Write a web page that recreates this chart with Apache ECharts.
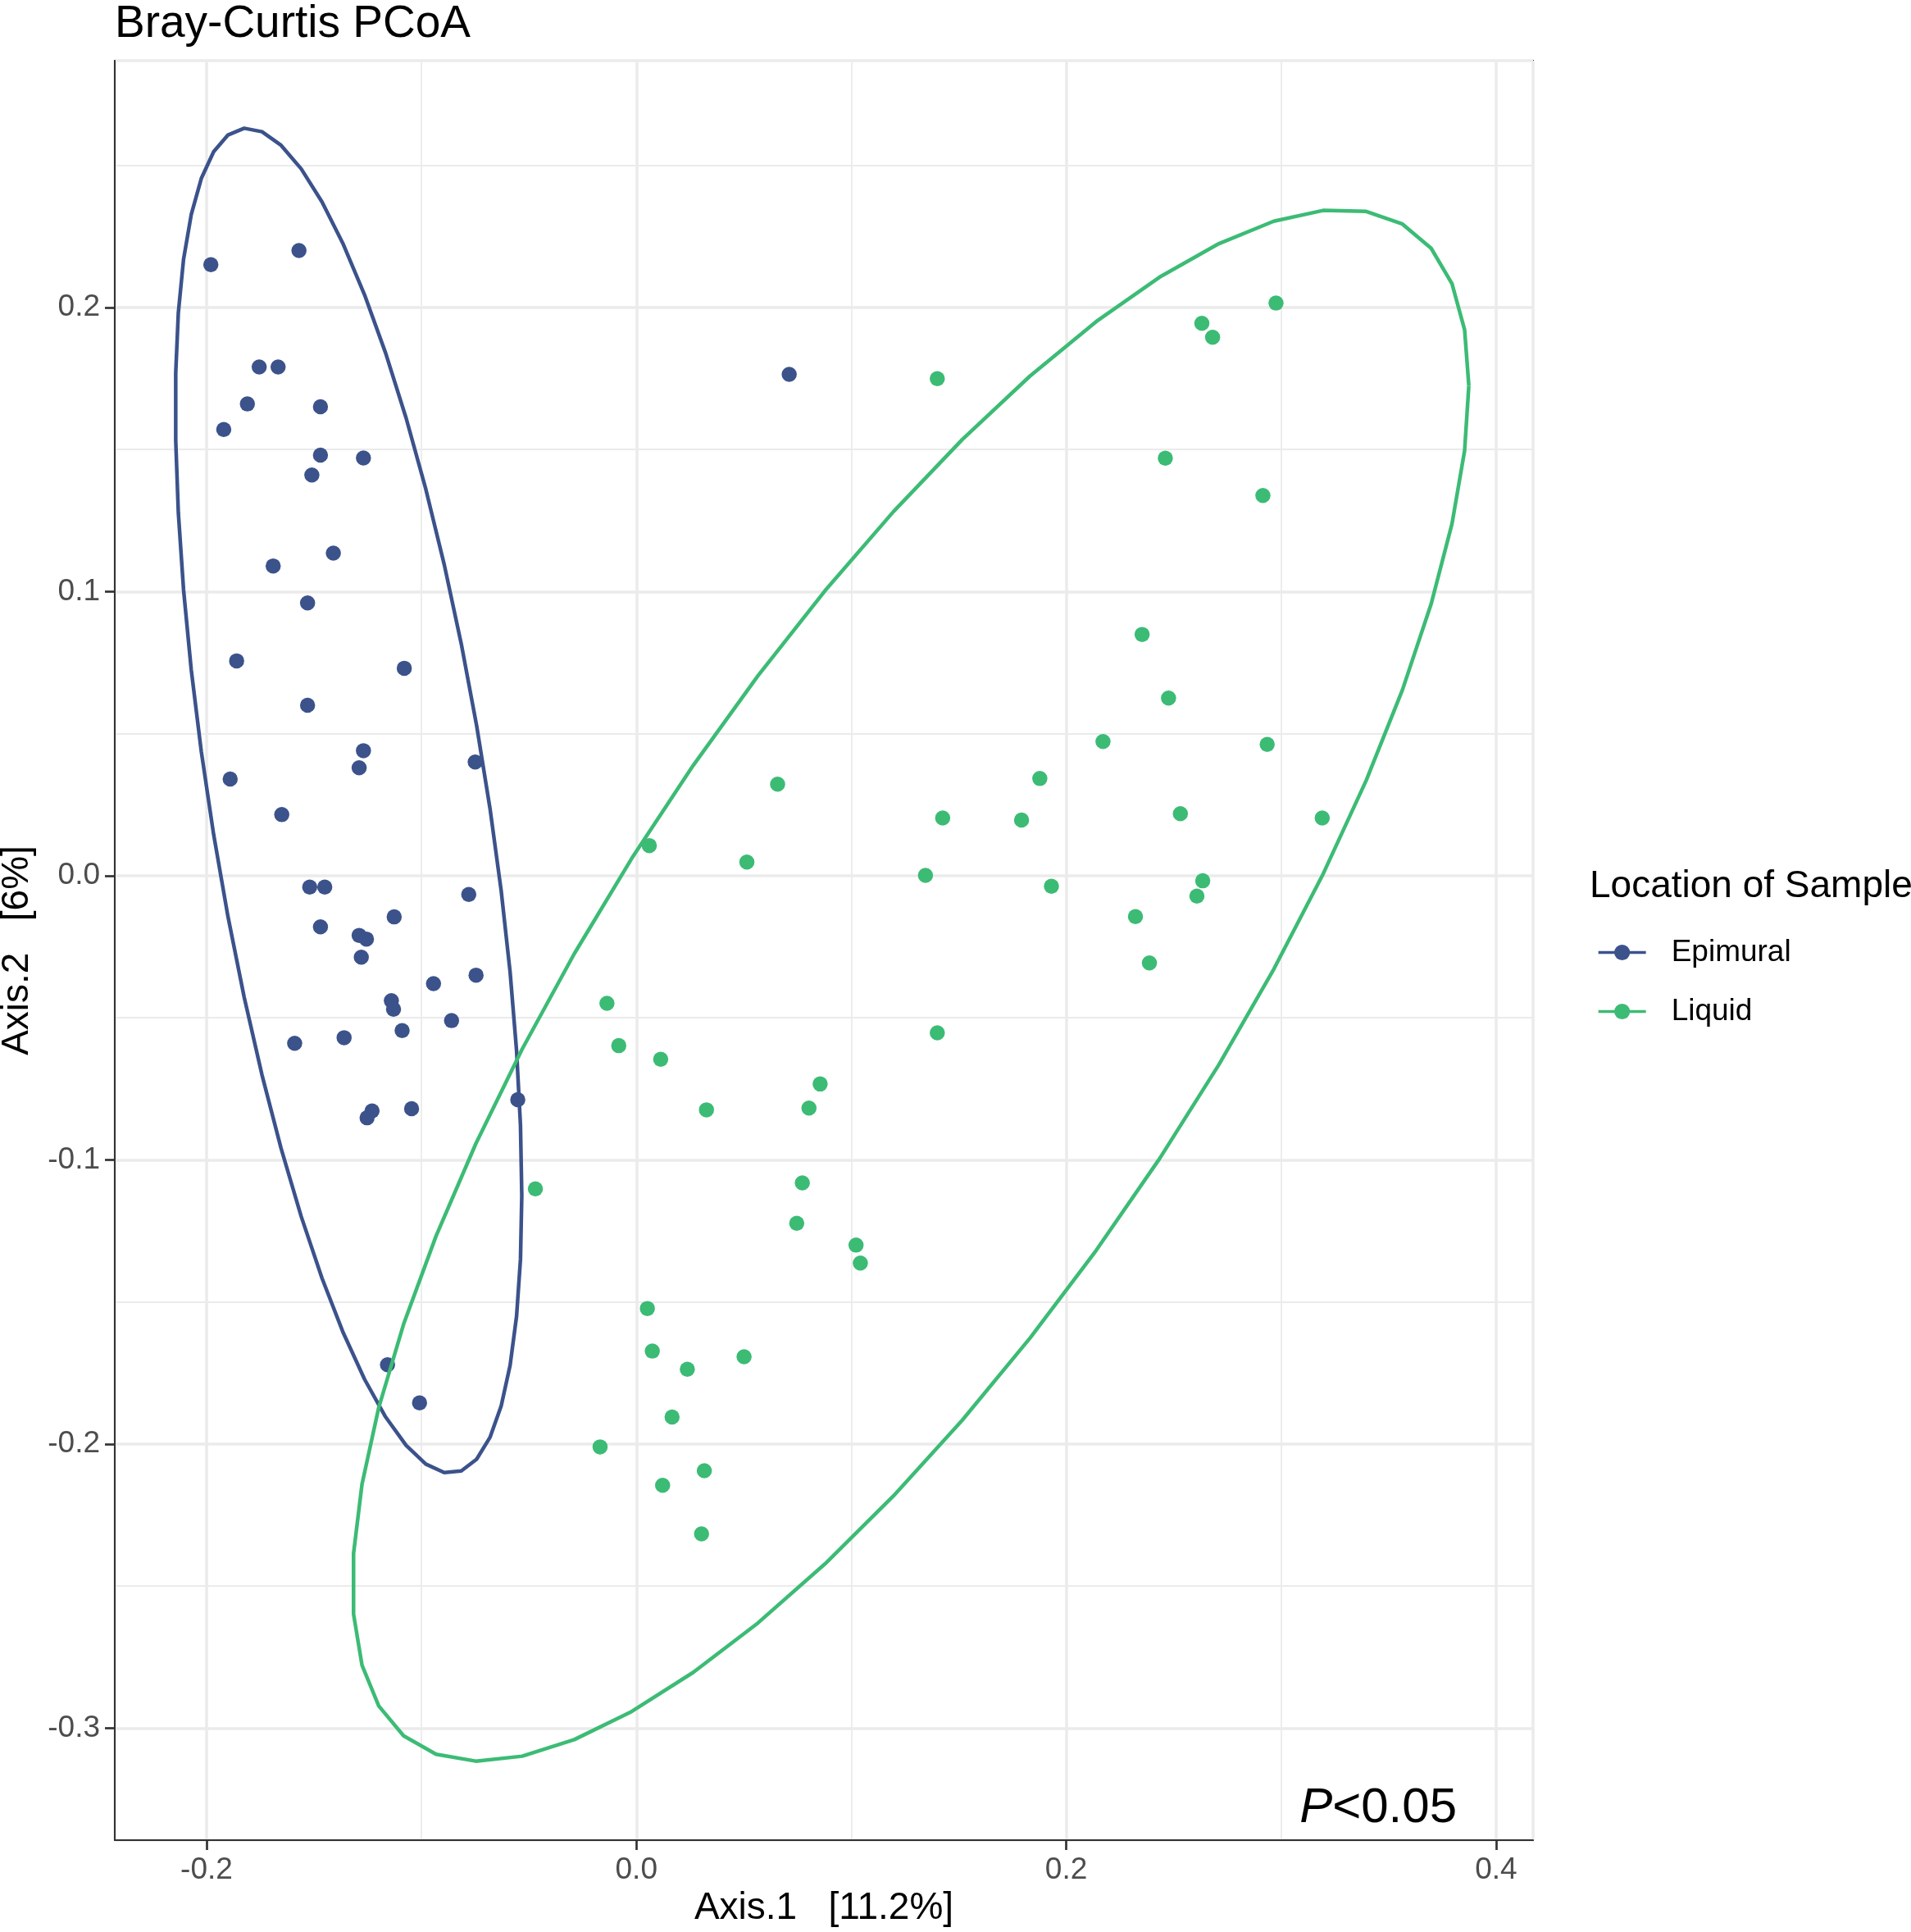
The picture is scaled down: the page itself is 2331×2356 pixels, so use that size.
<!DOCTYPE html>
<html lang="en">
<head>
    <meta charset="UTF-8">
    <script src="https://cdn.jsdelivr.net/npm/echarts@6.0.0/dist/echarts.min.js"></script>
    <style>
        body { margin: 0; padding: 0; background: #ffffff; }
        #chart { width: 2331px; height: 2356px; }
    </style>
</head>
<body>
    <div id="chart"></div>
    <script>
        // sample coordinates
        const epiX = [-0.198, -0.157, -0.1755, -0.1667, -0.181, -0.147, -0.192, -0.147, -0.127, -0.151,
                      -0.141, -0.169, -0.153, -0.186, -0.108, -0.153, -0.127, -0.129, -0.075, -0.189,
                      -0.165, -0.152, -0.145, -0.078, -0.1127, -0.147, -0.129, -0.1256, -0.128, -0.0944,
                      -0.0746, -0.114, -0.113, -0.086, -0.109, -0.159, -0.136, -0.0552, -0.123, -0.1253,
                      -0.1046, 0.0711, -0.1158, -0.1009];
        const epiY = [0.215, 0.220, 0.179, 0.179, 0.166, 0.165, 0.157, 0.148, 0.147, 0.141,
                      0.1135, 0.109, 0.096, 0.0756, 0.073, 0.060, 0.044, 0.038, 0.040, 0.034,
                      0.0215, -0.004, -0.004, -0.0066, -0.0145, -0.018, -0.021, -0.0223, -0.0287, -0.038,
                      -0.035, -0.044, -0.047, -0.051, -0.0545, -0.059, -0.057, -0.0788, -0.0828, -0.0852,
                      -0.082, 0.1764, -0.1721, -0.1855];

        const liqX = [0.2976, 0.2631, 0.2681, 0.140, 0.2461, 0.2915, 0.2353, 0.2476, 0.2171, 0.2935,
                      0.0657, 0.1877, 0.1425, 0.1792, 0.2531, 0.3191, 0.006, 0.0514, 0.1345, 0.1931,
                      0.2635, 0.2608, 0.2322, 0.2387, -0.0137, -0.0082, 0.0113, 0.0855, 0.0803, 0.0326,
                      0.140, -0.047, 0.0772, 0.0746, 0.1022, 0.1042, 0.0051, 0.0074, 0.0501, 0.0237,
                      0.0166, -0.0169, 0.0316, 0.0122, 0.0303];
        const liqY = [0.2015, 0.1944, 0.1895, 0.1749, 0.1469, 0.1338, 0.0849, 0.0625, 0.0472, 0.0462,
                      0.0322, 0.0342, 0.0203, 0.0196, 0.0218, 0.0203, 0.0106, 0.0048, 0.0001, -0.0037,
                      -0.0018, -0.0072, -0.0144, -0.0307, -0.0449, -0.0598, -0.0646, -0.0733, -0.0818, -0.0824,
                      -0.0553, -0.1102, -0.1081, -0.1223, -0.130, -0.1363, -0.1523, -0.1673, -0.1693, -0.1737,
                      -0.1905, -0.201, -0.2094, -0.2145, -0.2316];

        const groupNames = ['Epimural', 'Liquid'];
        const groupColors = ['#3B528B', '#3CBB75'];
        const xTitle = 'Axis.1   [11.2%]';
        const yTitle = 'Axis.2   [6%]';

        // axis limits
        const xRange = [-0.2427, 0.4172];
        const yRange = [-0.3394, 0.2868];

        const fontFamily = '"Liberation Sans", Arial, Helvetica, sans-serif';

        function zip(xs, ys) {
            return xs.map((x, i) => [x, ys[i]]);
        }

        // robust t covariance, same steps as MASS::cov.trob
        function covTrob(pts, nu, maxit, tol) {
            const n = pts.length, p = 2;
            let w = pts.map(() => 1);
            let loc = [0, 0];
            pts.forEach(q => { loc[0] += q[0] / n; loc[1] += q[1] / n; });
            let X = [];
            for (let iter = 0; iter < maxit; iter++) {
                const w0 = w.slice();
                X = pts.map(q => [q[0] - loc[0], q[1] - loc[1]]);
                const sw = w.reduce((a, b) => a + b, 0);
                let s11 = 0, s12 = 0, s22 = 0;
                X.forEach((d, i) => {
                    s11 += w[i] / sw * d[0] * d[0];
                    s12 += w[i] / sw * d[0] * d[1];
                    s22 += w[i] / sw * d[1] * d[1];
                });
                const det = s11 * s22 - s12 * s12;
                const Q = X.map(d => (s22 * d[0] * d[0] - 2 * s12 * d[0] * d[1] + s11 * d[1] * d[1]) / det);
                w = Q.map(q => (nu + p) / (nu + q));
                const sw2 = w.reduce((a, b) => a + b, 0);
                loc = [0, 0];
                pts.forEach((q, i) => { loc[0] += w[i] * q[0] / sw2; loc[1] += w[i] * q[1] / sw2; });
                if (w.every((v, i) => Math.abs(v - w0[i]) < tol)) break;
            }
            let c11 = 0, c12 = 0, c22 = 0;
            X.forEach((d, i) => {
                c11 += w[i] * d[0] * d[0] / n;
                c12 += w[i] * d[0] * d[1] / n;
                c22 += w[i] * d[1] * d[1] / n;
            });
            return { center: loc, cov: [c11, c12, c22] };
        }

        // stat_ellipse(type = "t", level = 0.95, segments = 51)
        function ellipsePath(pts) {
            const v = covTrob(pts, 5, 25, 0.01);
            const dfd = pts.length - 1;
            const fq = (dfd / 2) * (Math.pow(1 - 0.95, -2 / dfd) - 1);
            const radius = Math.sqrt(2 * fq);
            const a = Math.sqrt(v.cov[0]);
            const b = v.cov[1] / a;
            const c = Math.sqrt(v.cov[2] - b * b);
            const out = [];
            for (let k = 0; k <= 51; k++) {
                const t = k * 2 * Math.PI / 51;
                const u = Math.cos(t), s = Math.sin(t);
                out.push([v.center[0] + radius * u * a, v.center[1] + radius * (u * b + s * c)]);
            }
            return out;
        }

        const groups = [zip(epiX, epiY), zip(liqX, liqY)];
        const ellipses = groups.map(ellipsePath);

        const chart = echarts.init(document.getElementById('chart'));

        function axisBase() {
            return {
                type: 'value',
                nameLocation: 'middle',
                nameTextStyle: { fontSize: 46, color: '#000000', fontFamily: fontFamily },
                axisLine: { show: true, onZero: false, lineStyle: { color: '#333333', width: 2 } },
                axisTick: { show: true, length: 12, lineStyle: { color: '#333333', width: 2.7 } },
                axisLabel: {
                    fontSize: 37, color: '#4D4D4D', fontFamily: fontFamily, margin: 18,
                    showMinLabel: false, showMaxLabel: false,
                    formatter: v => v.toFixed(1)
                },
                splitLine: { show: true, lineStyle: { color: '#EBEBEB', width: 3.5 } },
                minorTick: { show: false, splitNumber: 2 },
                minorSplitLine: { show: true, lineStyle: { color: '#EBEBEB', width: 1.8 } }
            };
        }

        const series = [];
        groupNames.forEach((name, i) => {
            series.push({
                name: name,
                type: 'line',
                data: ellipses[i],
                showSymbol: false,
                symbol: 'circle',
                smooth: false,
                z: 4,
                color: groupColors[i],
                lineStyle: { color: groupColors[i], width: 4.5 },
                silent: true
            });
        });
        groupNames.forEach((name, i) => {
            series.push({
                name: name,
                type: 'scatter',
                data: groups[i],
                symbol: 'circle',
                symbolSize: 18.5,
                z: 3,
                itemStyle: { color: groupColors[i], opacity: 1 }
            });
        });

        const option = {
            backgroundColor: '#ffffff',
            animation: false,
            textStyle: { fontFamily: fontFamily },
            title: [
                {
                    text: 'Bray-Curtis PCoA', left: 140, top: 2, padding: 0,
                    textStyle: { fontSize: 55, fontWeight: 'normal', color: '#000000', fontFamily: fontFamily }
                },
                {
                    text: 'Location of Sample', left: 1939, top: 1058, padding: 0,
                    textStyle: { fontSize: 46, fontWeight: 'normal', color: '#000000', fontFamily: fontFamily }
                }
            ],
            legend: {
                data: groupNames,
                orient: 'vertical',
                left: 1948,
                top: 1143,
                padding: 0,
                itemWidth: 58,
                itemHeight: 24,
                itemGap: 35,
                selectedMode: false,
                lineStyle: { width: 3.3 },
                textStyle: { fontSize: 37, color: '#000000', fontFamily: fontFamily, padding: [0, 0, 0, 26] }
            },
            grid: {
                left: 140, right: 461, top: 74, bottom: 112,
                containLabel: false,
                outerBoundsMode: 'none',
                show: true, borderColor: '#333333', borderWidth: 2, backgroundColor: 'transparent'
            },
            xAxis: Object.assign(axisBase(), {
                min: xRange[0], max: xRange[1], splitNumber: 3,
                name: xTitle, nameGap: 58
            }),
            yAxis: Object.assign(axisBase(), {
                min: yRange[0], max: yRange[1], splitNumber: 6,
                name: yTitle, nameGap: 96
            }),
            graphic: [{
                type: 'text',
                right: 554,
                top: 2175,
                style: {
                    text: '{i|P}<0.05',
                    fontSize: 60,
                    fontFamily: fontFamily,
                    fill: '#000000',
                    rich: { i: { fontStyle: 'italic', fontSize: 60, fontFamily: fontFamily } }
                }
            }],
            series: series
        };

        chart.setOption(option);
        window.addEventListener('resize', () => chart.resize());
    </script>
</body>
</html>
